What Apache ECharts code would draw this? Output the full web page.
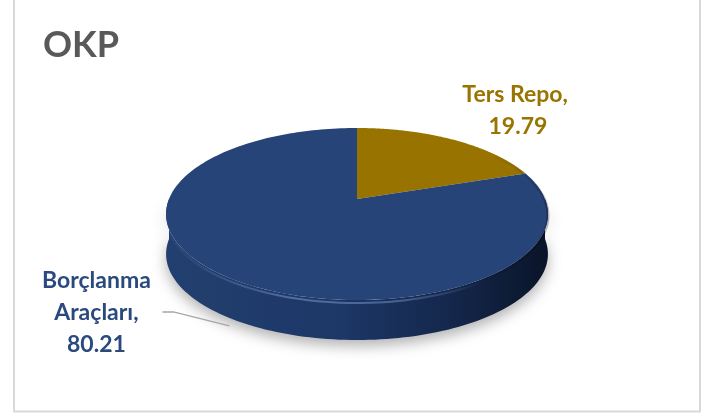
<!DOCTYPE html>
<html>
<head>
<meta charset="utf-8">
<script src="https://cdn.jsdelivr.net/npm/echarts@6/dist/echarts.min.js"></script>
<style>
  html, body { margin: 0; padding: 0; background: #fff; }
  #main { width: 710px; height: 416px; }
</style>
</head>
<body>
<div id="main"></div>
<script>
// data
const categories = ['Ters Repo', 'Borçlanma Araçları'];
const values = [19.79, 80.21];
const sliceColors = ['#997300', '#264478'];
const labelColors = ['#9a7400', '#2a4a7e'];

// pie geometry (perspective-tilted disc)
const cx = 357, cy = 199;
const rxs = 188;       // horizontal radius scale
const ay = 83.4;       // vertical radius scale
const persp = -0.1744; // perspective factor
const depth = 40;      // thickness of the disc

// label placement relative to the rim point at the slice's middle angle
const labelLayout = [
  { dx: 65, dy: -29, leader: false },
  { dx: -133, dy: 35, leader: true }
];

const total = values.reduce((s, v) => s + v, 0);
const starts = [], ends = [];
let acc = 0;
values.forEach(function (v) {
  starts.push(acc / total * Math.PI * 2);
  acc += v;
  ends.push(acc / total * Math.PI * 2);
});

// angle t: clockwise from 12 o'clock
function proj(t, dy) {
  const u = Math.sin(t), v = -Math.cos(t);
  const d = 1 + persp * v;
  return [cx + rxs * u / d, cy + ay * v / d + (dy || 0)];
}

function arc(a0, a1, dy, n) {
  const pts = [];
  for (let j = 0; j <= n; j++) {
    pts.push(proj(a0 + (a1 - a0) * j / n, dy));
  }
  return pts;
}

const sideFill = {
  type: 'linear', x: 166, y: 0, x2: 548, y2: 0, global: true,
  colorStops: [
    { offset: 0, color: '#22406f' },
    { offset: 0.45, color: '#1d3767' },
    { offset: 0.75, color: '#14274b' },
    { offset: 1, color: '#0a1428' }
  ]
};

function renderSide(params, api) {
  const i = params.dataIndex;
  const s = Math.max(starts[i], Math.PI / 2);
  const e = Math.min(ends[i], Math.PI * 1.5);
  if (e <= s) return;
  const top = arc(s, e, 0, 120);
  const bottom = arc(e, s, depth, 120);
  const hl = arc(Math.max(s, Math.PI * 0.62), Math.min(e, Math.PI * 1.45), 3, 80);
  return {
    type: 'group',
    children: [{
      type: 'polygon',
      shape: { points: top.concat(bottom) },
      style: {
        fill: sideFill,
        shadowBlur: 14,
        shadowOffsetY: 6,
        shadowColor: 'rgba(0,0,0,0.3)'
      }
    }, {
      type: 'polyline',
      shape: { points: hl },
      style: {
        fill: null,
        lineWidth: 2,
        stroke: {
          type: 'linear', x: 170, y: 0, x2: 520, y2: 0, global: true,
          colorStops: [
            { offset: 0, color: 'rgba(120,150,205,0.05)' },
            { offset: 0.35, color: 'rgba(130,160,215,0.5)' },
            { offset: 0.65, color: 'rgba(130,160,215,0.45)' },
            { offset: 0.9, color: 'rgba(130,160,215,0)' }
          ]
        }
      }
    }]
  };
}

function renderTop(params, api) {
  const i = params.dataIndex;
  const s = starts[i], e = ends[i];
  const mid = (s + e) / 2;
  const pts = [[cx, cy]].concat(arc(s, e, 0, 200));
  const rim = proj(mid, 0);
  const lay = labelLayout[i];
  const lx = rim[0] + lay.dx, ly = rim[1] + lay.dy;
  const children = [{
    type: 'polygon',
    shape: { points: pts },
    style: { fill: sliceColors[i] }
  }];
  // soft darkening along the right-hand rim of the top face
  const bs = Math.max(s, Math.PI * 0.3), be = Math.min(e, Math.PI * 0.85);
  if (be > bs) {
    children.push({
      type: 'polyline',
      shape: { points: arc(bs, be, 1.5, 60) },
      style: {
        fill: null,
        lineWidth: 3,
        stroke: {
          type: 'linear', x: 0, y: 150, x2: 0, y2: 290, global: true,
          colorStops: [
            { offset: 0, color: 'rgba(0,0,0,0)' },
            { offset: 0.5, color: 'rgba(0,0,20,0.3)' },
            { offset: 1, color: 'rgba(0,0,0,0)' }
          ]
        }
      }
    });
  }
  children.push({
    type: 'text',
    x: lx, y: ly,
    style: {
      text: categories[i] + ', ' + api.value(0).toFixed(2),
      fill: labelColors[i],
      fontFamily: 'Lato',
      fontWeight: 'bold',
      fontSize: 23,
      lineHeight: 32,
      width: 125,
      overflow: 'break',
      align: 'center',
      verticalAlign: 'middle'
    }
  });
  if (lay.leader) {
    const end = proj(mid, depth + 8);
    children.push({
      type: 'polyline',
      shape: { points: [[lx + 66, ly - 1], [lx + 77, ly - 1], end] },
      style: { fill: null, stroke: '#a6a6a6', lineWidth: 1.3 }
    });
  }
  return { type: 'group', children: children };
}

const seriesData = values.map(function (v, i) {
  return { name: categories[i], value: v };
});

const chart = echarts.init(document.getElementById('main'));
chart.setOption({
  animation: false,
  backgroundColor: '#ffffff',
  title: {
    text: 'OKP',
    left: 38,
    top: 22,
    textStyle: {
      fontFamily: 'Lato',
      fontWeight: 'bold',
      fontSize: 36,
      color: '#595959'
    }
  },
  graphic: [{
    type: 'rect',
    shape: { x: 14, y: -10, width: 686, height: 421.5 },
    style: { fill: null, stroke: '#d9d9d9', lineWidth: 2 },
    silent: true
  }],
  series: [{
    type: 'custom',
    coordinateSystem: 'none',
    renderItem: renderSide,
    data: seriesData
  }, {
    type: 'custom',
    coordinateSystem: 'none',
    renderItem: renderTop,
    data: seriesData
  }]
});
</script>
</body>
</html>
